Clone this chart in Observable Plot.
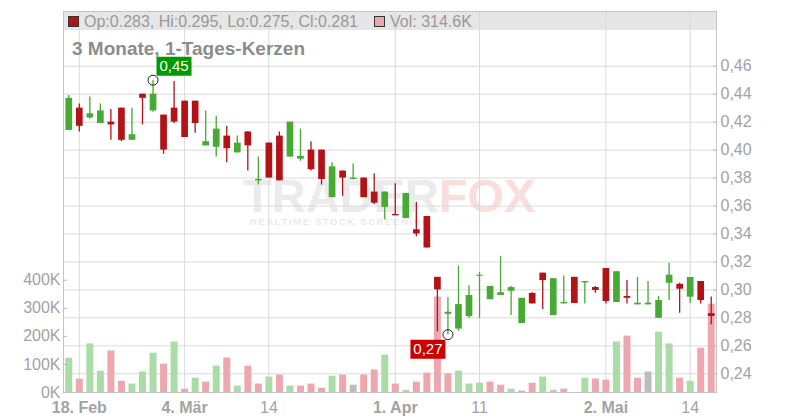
<!DOCTYPE html>
<html><head><meta charset="utf-8">
<script src="https://cdn.jsdelivr.net/npm/d3@7"></script>
<script src="https://cdn.jsdelivr.net/npm/@observablehq/plot@0.6"></script>
<style>
body{margin:0;background:#fff;font-family:"Liberation Sans",Arial,sans-serif;}
#wrap{position:relative;width:800px;height:420px;overflow:hidden;}
#wrap > *{position:absolute;}
#layers{left:0;top:0;width:800px;height:420px;}
#hdrbg{left:63px;top:11px;width:653px;height:19px;background:#e6e6e6;}
#wm{left:243px;top:180px;font-weight:bold;font-size:47px;line-height:0.7;white-space:nowrap;}
#wm2{left:250px;top:217px;font-weight:bold;font-size:9.5px;letter-spacing:1.6px;color:#e9e9e9;white-space:nowrap;line-height:1;}
.hd{position:absolute;top:14px;font-size:16px;line-height:16px;color:#999;white-space:nowrap;}
#title{left:72px;top:38.5px;font-size:19px;line-height:19px;font-weight:bold;color:#8c8c8c;white-space:nowrap;}
.sq{position:absolute;top:16px;width:9px;height:9px;border:1px solid #333;}
#layers svg{position:absolute;left:0;top:0;max-width:none;}
</style></head>
<body>
<div id="wrap">
  <div id="hdrbg"></div>
  <div id="wm"><span style="color:#ebebeb">TRADER</span><span style="color:#fadede">FOX</span></div>
  <div id="wm2">REALTIME STOCK SCREENING</div>
  <div id="layers"></div>
  <div class="sq" id="sq1" style="left:68px"></div>
  <div class="hd" id="hdr1" style="left:84px"></div>
  <div class="sq" id="sq2" style="left:374px"></div>
  <div class="hd" id="hdr2" style="left:390px"></div>
  <div id="title"></div>
</div>
<script>
const titleText = "3 Monate, 1-Tages-Kerzen";
const dates = [
 "2019-02-15","2019-02-18","2019-02-19","2019-02-20","2019-02-21","2019-02-22","2019-02-25","2019-02-26","2019-02-27","2019-02-28",
 "2019-03-01","2019-03-04","2019-03-05","2019-03-06","2019-03-07","2019-03-08","2019-03-11","2019-03-12","2019-03-13","2019-03-14",
 "2019-03-15","2019-03-18","2019-03-19","2019-03-20","2019-03-21","2019-03-22","2019-03-25","2019-03-26","2019-03-27","2019-03-28",
 "2019-03-29","2019-04-01","2019-04-02","2019-04-03","2019-04-04","2019-04-05","2019-04-08","2019-04-09","2019-04-10","2019-04-11",
 "2019-04-12","2019-04-15","2019-04-16","2019-04-17","2019-04-18","2019-04-23","2019-04-24","2019-04-25","2019-04-26","2019-04-29",
 "2019-04-30","2019-05-02","2019-05-03","2019-05-06","2019-05-07","2019-05-08","2019-05-09","2019-05-10","2019-05-13","2019-05-14",
 "2019-05-15","2019-05-16"];
const open = [
 .414,.430,.423,.419,.420,.430,.407,.440,.428,.425,
 .430,.435,.435,.403,.402,.410,.398,.413,.378,.405,
 .410,.395,.3935,.400,.400,.366,.385,.379,.380,.370,
 .359,.354,.351,.343,.3525,.309,.2825,.272,.281,.3098,
 .293,.296,.299,.276,.2975,.312,.2817,.290,.309,.305,
 .3017,.3153,.291,.2953,.2893,.2893,.2797,.3048,.304,.2948,
 .306,.283];
const high = [
 .439,.433,.438,.433,.429,.430,.430,.440,.450,.425,
 .449,.435,.435,.428,.424,.417,.410,.413,.395,.405,
 .413,.420,.415,.406,.400,.391,.385,.390,.380,.383,
 .370,.376,.369,.3625,.3525,.309,.2945,.317,.303,.3125,
 .3025,.324,.3024,.294,.298,.312,.308,.310,.309,.306,
 .3024,.3153,.313,.3067,.309,.306,.2953,.319,.3048,.3089,
 .306,.295];
const low = [
 .414,.413,.422,.419,.407,.406,.407,.418,.427,.397,
 .419,.409,.412,.403,.395,.391,.398,.385,.375,.380,
 .378,.395,.392,.385,.375,.366,.367,.379,.366,.361,
 .350,.353,.351,.338,.330,.270,.268,.2705,.2795,.2795,
 .293,.296,.2817,.276,.290,.286,.2817,.290,.2903,.290,
 .2976,.290,.291,.290,.2893,.2893,.2797,.2924,.2833,.2905,
 .290,.275];
const close = [
 .437,.417,.426,.428,.418,.407,.411,.437,.440,.400,
 .420,.409,.419,.406,.415,.401,.405,.403,.379,.380,
 .378,.420,.3955,.386,.379,.388,.380,.380,.366,.362,
 .370,.353,.369,.340,.330,.300,.284,.2895,.296,.3105,
 .3025,.298,.3017,.294,.290,.3067,.308,.291,.2903,.306,
 .2996,.2917,.313,.294,.2905,.2905,.2924,.3105,.3005,.3089,
 .2924,.281];
const volume = [
 122000,48000,173000,76000,148000,40000,30000,73000,140000,101000,
 180000,12000,51000,37000,94000,123000,23000,94000,30000,55000,
 62000,23000,23000,30000,15000,58000,62000,26000,62000,80000,
 133000,30000,8000,37000,69000,340000,67000,76000,30000,33000,
 37000,26000,12000,5000,33000,55000,8000,12000,0,51000,
 48000,44000,180000,201000,51000,73000,215000,173000,51000,40000,
 158000,314600];
const priceTicks = [0.24,0.26,0.28,0.30,0.32,0.34,0.36,0.38,0.40,0.42,0.44,0.46];
const volumeTicks = [0,100000,200000,300000,400000];
const tickDates = ["2019-02-18","2019-03-04","2019-03-14","2019-04-01","2019-04-11","2019-05-02","2019-05-14"];
const tickLabels = ["18. Feb","4. Mär","14","1. Apr","11","2. Mai","14"];
const tickBold = [true,true,false,true,false,true,false];

const UP = "#46aa33", DOWN = "#b31217";
const VUP = "#aadca6", VDOWN = "#efa7af", VFLAT = "#bdbdbd";

const rows = dates.map((date,k)=>({
  i:k+1, date, open:open[k], high:high[k], low:low[k], close:close[k], vol:volume[k],
  color: close[k] >= open[k] ? UP : DOWN,
  vcolor: k===0 ? VUP : (close[k] > close[k-1] ? VUP : close[k] < close[k-1] ? VDOWN : VFLAT)
}));
const idx = new Map(dates.map((d,k)=>[d,k+1]));
const tickIdx = tickDates.map(d=>idx.get(d));
const labelOf = new Map(tickIdx.map((v,k)=>[v,tickLabels[k]]));
const boldIdx = tickIdx.filter((v,k)=>tickBold[k]);
const normIdx = tickIdx.filter((v,k)=>!tickBold[k]);

const W=800,H=420, ML=63, MR=84, MT=11, MB=28;
const xDom = [0.5, dates.length+0.5];
const pxPer = 1398.2; // price scale: pixels per unit
const yDom = [0.24 - (H-MB-373.3)/pxPer, 0.46 + (65.7-MT)/pxPer];
const vDom = [0, (H-MB-MT)/28.07*100000];
const base = {width:W,height:H,marginLeft:ML,marginRight:MR,marginTop:MT,marginBottom:MB,
  style:{background:"transparent",fontFamily:"Liberation Sans, Arial, sans-serif",fontSize:"16px",overflow:"visible",maxWidth:"none"}};
const fmtP = d => d3.format(".2f")(d).replace(".",",");

const layers = document.getElementById("layers");

// grid layer
layers.append(Plot.plot({...base,
  x:{domain:xDom,axis:null}, y:{domain:yDom,axis:null},
  marks:[
    Plot.gridY(priceTicks,{stroke:"#dadada",strokeOpacity:1}),
    Plot.gridX(tickIdx,{stroke:"#dadada",strokeOpacity:1}),
    Plot.frame({stroke:"#c4c4c4"})
  ]}));

// volume layer
layers.append(Plot.plot({...base,
  x:{domain:xDom,axis:null}, y:{domain:vDom,axis:null},
  marks:[
    Plot.ruleX(rows,{x:"i",y1:0,y2:"vol",stroke:"vcolor",strokeWidth:7}),
    Plot.axisY(volumeTicks,{anchor:"left",label:null,tickSize:-4,tickPadding:7,stroke:"#bbb",fill:"#a3a3a3",
      tickFormat:d=>(d/1000)+"K"})
  ]}));

// price layer
const maxRow = d3.greatest(rows,d=>d.high);
const minRow = d3.least(rows,d=>d.low);
const box = {draw(ctx){ctx.moveTo(-17.5,-9.5);ctx.lineTo(17.5,-9.5);ctx.lineTo(17.5,9.5);ctx.lineTo(-17.5,9.5);ctx.closePath();}};
layers.append(Plot.plot({...base,
  x:{domain:xDom,axis:null}, y:{domain:yDom,axis:null},
  marks:[
    Plot.ruleX(rows,{x:"i",y1:"low",y2:"high",stroke:"color",strokeWidth:1.3}),
    Plot.ruleX(rows,{x:"i",y1:"open",y2:"close",stroke:"color",strokeWidth:6.7}),
    Plot.axisY(priceTicks,{anchor:"right",label:null,tickSize:-4,tickPadding:8,stroke:"#bbb",fill:"#a3a3a3",tickFormat:fmtP}),
    Plot.axisX(boldIdx,{anchor:"bottom",label:null,tickSize:0,tickPadding:9,fill:"#a3a3a3",fontWeight:"bold",tickFormat:d=>labelOf.get(d)}),
    Plot.axisX(normIdx,{anchor:"bottom",label:null,tickSize:0,tickPadding:9,fill:"#a3a3a3",tickFormat:d=>labelOf.get(d)}),
    Plot.dot([maxRow],{x:"i",y:"high",symbol:box,r:5,fill:"#009a00",stroke:"none",dx:21,dy:-14}),
    Plot.text([maxRow],{x:"i",y:"high",text:d=>fmtP(d.high),fill:"white",fontSize:15,dx:21,dy:-13.5}),
    Plot.dot([minRow],{x:"i",y:"low",symbol:box,r:5,fill:"#cc0000",stroke:"none",dx:-20,dy:14.5}),
    Plot.text([minRow],{x:"i",y:"low",text:d=>fmtP(d.low),fill:"white",fontSize:15,dx:-20,dy:15}),
    Plot.dot([maxRow],{x:"i",y:"high",r:5,stroke:"#222",fill:"none",strokeWidth:1}),
    Plot.dot([minRow],{x:"i",y:"low",r:5,stroke:"#222",fill:"none",strokeWidth:1})
  ]}));

// header + title
const last = rows[rows.length-1];
const f3 = d3.format(".3f");
document.getElementById("sq1").style.background = last.color;
document.getElementById("sq2").style.background = last.vcolor;
document.getElementById("hdr1").textContent = `Op:${f3(last.open)}, Hi:${f3(last.high)}, Lo:${f3(last.low)}, Cl:${f3(last.close)}`;
document.getElementById("hdr2").textContent = `Vol: ${(last.vol/1000).toFixed(1)}K`;
document.getElementById("title").textContent = titleText;
</script>
</body></html>
